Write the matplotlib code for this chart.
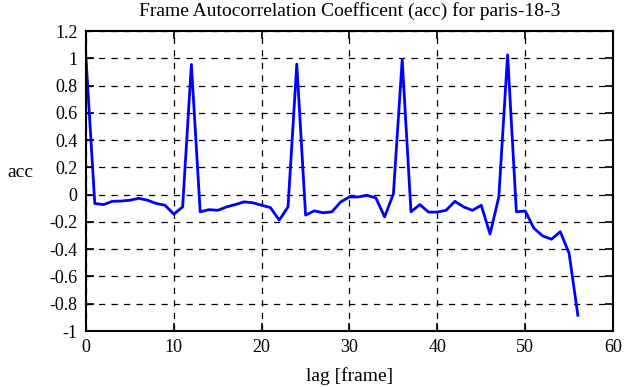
import matplotlib
matplotlib.use('Agg')
import matplotlib.pyplot as plt

lag = list(range(57))
acc = [1.0, -0.065, -0.073, -0.049, -0.047, -0.041, -0.027, -0.041, -0.065, -0.078,
       -0.143, -0.09, 0.955, -0.126, -0.11, -0.115, -0.09, -0.073, -0.053, -0.06,
       -0.078, -0.095, -0.187, -0.09, 0.957, -0.15, -0.119, -0.133, -0.126, -0.053,
       -0.017, -0.017, -0.005, -0.024, -0.163, 0.007, 0.99, -0.126, -0.073, -0.128,
       -0.128, -0.115, -0.049, -0.09, -0.115, -0.078, -0.289, -0.017, 1.025, -0.126,
       -0.12, -0.247, -0.303, -0.327, -0.272, -0.43, -0.885]

xticks = [0, 10, 20, 30, 40, 50, 60]
yticks = [-1, -0.8, -0.6, -0.4, -0.2, 0, 0.2, 0.4, 0.6, 0.8, 1, 1.2]
ytick_labels = ['-1', '-0.8', '-0.6', '-0.4', '-0.2', '0', '0.2', '0.4', '0.6', '0.8', '1', '1.2']

plt.rcParams['font.family'] = ['Liberation Serif', 'DejaVu Serif']
plt.rcParams['font.size'] = 13

fig = plt.figure(figsize=(6.25, 3.87), dpi=100)
ax = fig.add_axes([86 / 625, 1 - 331 / 387, 527 / 625, 300 / 387])

ax.plot(lag, acc, color='#0000ff', linewidth=2)
ax.set_xlim(0, 60)
ax.set_ylim(-1, 1.2)
ax.set_xticks(xticks)
ax.set_yticks(yticks)
ax.set_yticklabels(ytick_labels)
ax.grid(True, color='black', linestyle=(0, (5, 5)), linewidth=0.9)
ax.tick_params(direction='in', top=True, right=True, length=6, width=1.2, pad=6)
for s in ax.spines.values():
    s.set_linewidth(1.5)

ax.set_title('Frame Autocorrelation Coefficent (acc) for paris-18-3', fontsize=14, pad=11)
ax.set_xlabel('lag [frame]', fontsize=14, labelpad=8)
ax.set_ylabel('acc', rotation=0, fontsize=14)
ax.yaxis.set_label_coords(-0.125, 0.5)

fig.savefig('out.png', dpi=100)
